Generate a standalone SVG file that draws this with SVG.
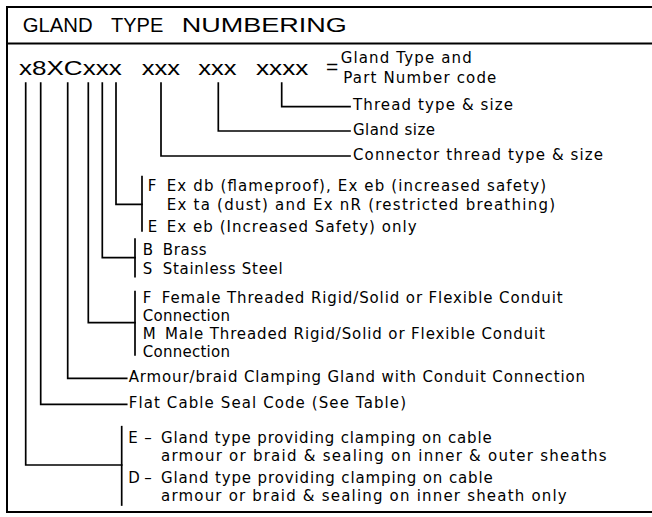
<svg xmlns="http://www.w3.org/2000/svg" width="652" height="517" viewBox="0 0 652 517">
<style>
.ln{fill:none;stroke:#000;stroke-width:1.7;stroke-linecap:square}
.t{font-family:"DejaVu Sans","Liberation Sans",sans-serif;font-size:15px;fill:#000}
.big{font-family:"Liberation Sans",Arial,sans-serif;font-size:21px;fill:#000}
</style>
<rect width="652" height="517" fill="#fff"/>
<g id="frame">
<path class="ln" d="M7,7 H660 M7,7 V512 H660 M7,43.5 H660" style="stroke-width:2"/>
<text class="big" x="22.7" y="31.5" textLength="70" lengthAdjust="spacingAndGlyphs">GLAND</text>
<text class="big" x="111" y="31.5" textLength="52.3" lengthAdjust="spacingAndGlyphs">TYPE</text>
<text class="big" x="181.7" y="31.5" textLength="165" lengthAdjust="spacingAndGlyphs">NUMBERING</text>
</g>
<g id="code">
<text class="big" x="19" y="75" textLength="102.7" lengthAdjust="spacingAndGlyphs">x8XCxxx</text>
<text class="big" x="141.7" y="75" textLength="38.3" lengthAdjust="spacingAndGlyphs">xxx</text>
<text class="big" x="198.3" y="75" textLength="38.3" lengthAdjust="spacingAndGlyphs">xxx</text>
<text class="big" x="256" y="75" textLength="52.3" lengthAdjust="spacingAndGlyphs">xxxx</text>
<text class="big" x="326" y="74">=</text>
<text class="t" x="340.7" y="63" textLength="131" lengthAdjust="spacing">Gland Type and</text>
<text class="t" x="343.3" y="83" textLength="153" lengthAdjust="spacing">Part Number code</text>
</g>
<g id="connectors">
<path class="ln" d="M25.7,83 V465 H121.7"/>
<path class="ln" d="M40.7,83 V404.3 H126.7"/>
<path class="ln" d="M67.7,83 V378.3 H126.7"/>
<path class="ln" d="M88.3,83 V322.7 H135"/>
<path class="ln" d="M102.3,83 V257.7 H135"/>
<path class="ln" d="M116,83 V204.3 H142"/>
<path class="ln" d="M161,83 V156 H350"/>
<path class="ln" d="M218.3,83 V131 H350"/>
<path class="ln" d="M281.7,83 V106.7 H350"/>
<path class="ln" d="M142,176.7 V231"/>
<path class="ln" d="M135,239 V276.7"/>
<path class="ln" d="M135,291.7 V355"/>
<path class="ln" d="M121.7,426.7 V505"/>
</g>
<g id="thread">
<text class="t" x="353" y="110" textLength="160" lengthAdjust="spacing">Thread type &amp; size</text>
</g>
<g id="gland-size">
<text class="t" x="353" y="135" textLength="82" lengthAdjust="spacing">Gland size</text>
</g>
<g id="connector-thread">
<text class="t" x="353" y="159.5" textLength="250" lengthAdjust="spacing">Connector thread type &amp; size</text>
</g>
<g id="protection">
<text class="t" x="147.7" y="191">F</text>
<text class="t" x="166.7" y="191" textLength="379.3" lengthAdjust="spacing">Ex db (flameproof), Ex eb (increased safety)</text>
<text class="t" x="166.7" y="210" textLength="388.3" lengthAdjust="spacing">Ex ta (dust) and Ex nR (restricted breathing)</text>
<text class="t" x="147.7" y="232">E</text>
<text class="t" x="166.7" y="232" textLength="250" lengthAdjust="spacing">Ex eb (Increased Safety) only</text>
</g>
<g id="material">
<text class="t" x="142.7" y="255">B</text>
<text class="t" x="162.7" y="255" textLength="44" lengthAdjust="spacing">Brass</text>
<text class="t" x="142.7" y="274">S</text>
<text class="t" x="162.7" y="274" textLength="120" lengthAdjust="spacing">Stainless Steel</text>
</g>
<g id="conduit">
<text class="t" x="142.7" y="303">F</text>
<text class="t" x="161.7" y="303" textLength="401" lengthAdjust="spacing">Female Threaded Rigid/Solid or Flexible Conduit</text>
<text class="t" x="142.7" y="320.5" textLength="87.3" lengthAdjust="spacing">Connection</text>
<text class="t" x="142.7" y="339">M</text>
<text class="t" x="165" y="339" textLength="380" lengthAdjust="spacing">Male Threaded Rigid/Solid or Flexible Conduit</text>
<text class="t" x="142.7" y="356.7" textLength="87.3" lengthAdjust="spacing">Connection</text>
</g>
<g id="armour">
<text class="t" x="128.7" y="381.5" textLength="456.3" lengthAdjust="spacing">Armour/braid Clamping Gland with Conduit Connection</text>
</g>
<g id="flat-cable">
<text class="t" x="128.7" y="408" textLength="277.3" lengthAdjust="spacing">Flat Cable Seal Code (See Table)</text>
</g>
<g id="gland-type">
<text class="t" x="128.3" y="442.7" textLength="23.4" lengthAdjust="spacing">E–</text>
<text class="t" x="161" y="442.7" textLength="330.7" lengthAdjust="spacing">Gland type providing clamping on cable</text>
<text class="t" x="161" y="460.7" textLength="445.7" lengthAdjust="spacing">armour or braid &amp; sealing on inner &amp; outer sheaths</text>
<text class="t" x="128.3" y="482.7" textLength="23.4" lengthAdjust="spacing">D–</text>
<text class="t" x="161" y="482.7" textLength="331.7" lengthAdjust="spacing">Gland type providing clamping on cable</text>
<text class="t" x="161" y="500.7" textLength="405.7" lengthAdjust="spacing">armour or braid &amp; sealing on inner sheath only</text>
</g>
</svg>
